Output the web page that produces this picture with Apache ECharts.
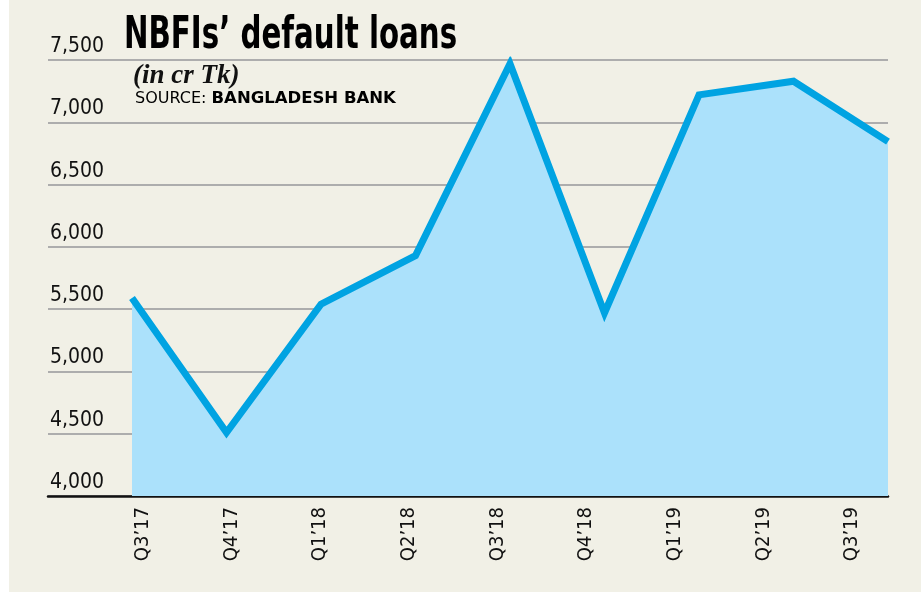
<!DOCTYPE html>
<html>
<head>
<meta charset="utf-8">
<style>
  html, body { margin: 0; padding: 0; background: #fff; }
  #chart { width: 921px; height: 592px; }
</style>
<script src="https://cdn.jsdelivr.net/npm/echarts@6/dist/echarts.min.js"></script>
</head>
<body>
<div id="chart"></div>
<script>
// quarters on the x axis
const quarters = ['Q3’17', 'Q4’17', 'Q1’18', 'Q2’18', 'Q3’18', 'Q4’18', 'Q1’19', 'Q2’19', 'Q3’19']
// default loans, in crore Tk
const defaultLoans = [5590, 4510, 5540, 5930, 7470, 5470, 7220, 7330, 6845]
// y axis range
const yMin = 4000
const yMax = 7500
const yStep = 500

const bg = '#f1f0e6'
const lineBlue = '#00a3e2'
const fillBlue = '#abe1fb'
const narrow = '"Liberation Sans Narrow", "DejaVu Sans Condensed", sans-serif'

const chart = echarts.init(document.getElementById('chart'))

const hiddenY = {
  type: 'value',
  min: yMin,
  max: yMax,
  interval: yStep,
  show: false
}

const option = {
  backgroundColor: bg,
  animation: false,
  grid: [
    // gridlines + y labels
    { left: 48, right: 33, top: 60, bottom: 96 },
    // data
    { left: 132, right: 33, top: 60, bottom: 96 },
    // quarter labels (set slightly off the points, as in the print graphic)
    { left: 143, right: 69, top: 60, bottom: 96 }
  ],
  xAxis: [
    {
      gridIndex: 0,
      type: 'value',
      min: 0,
      max: 1,
      axisLine: { show: true, lineStyle: { color: '#111', width: 2.5 } },
      axisTick: { show: false },
      axisLabel: { show: false },
      splitLine: { show: false }
    },
    {
      gridIndex: 1,
      type: 'category',
      boundaryGap: false,
      data: quarters,
      show: false
    },
    {
      gridIndex: 2,
      type: 'category',
      boundaryGap: false,
      data: quarters,
      axisLine: { show: false },
      axisTick: { show: false },
      axisLabel: {
        interval: 0,
        rotate: 90,
        margin: 11,
        fontFamily: narrow,
        fontSize: 20,
        color: '#111'
      }
    }
  ],
  yAxis: [
    {
      gridIndex: 0,
      type: 'value',
      min: yMin,
      max: yMax,
      interval: yStep,
      axisLine: { show: false },
      axisTick: { show: false },
      axisLabel: {
        inside: true,
        margin: 2,
        verticalAlign: 'bottom',
        padding: [0, 0, 3, 0],
        fontFamily: narrow,
        fontSize: 21,
        color: '#111',
        formatter: v => v.toLocaleString('en-US')
      },
      splitLine: { lineStyle: { color: '#adadad', width: 2 } }
    },
    Object.assign({ gridIndex: 1 }, hiddenY),
    Object.assign({ gridIndex: 2 }, hiddenY)
  ],
  series: [
    {
      type: 'line',
      xAxisIndex: 1,
      yAxisIndex: 1,
      data: defaultLoans,
      symbol: 'none',
      lineStyle: { color: lineBlue, width: 7, join: 'miter', miterLimit: 20 },
      areaStyle: { color: fillBlue, opacity: 1, origin: 'start' },
      z: 3
    }
  ],
  graphic: [
    {
      type: 'rect',
      left: 0,
      top: 0,
      shape: { width: 9, height: 592 },
      style: { fill: '#fff' },
      silent: true
    },
    {
      type: 'text',
      x: 124,
      y: 15,
      scaleX: 0.74,
      style: {
        text: 'NBFIs’ default loans',
        font: 'bold 44px ' + narrow,
        fill: '#000',
        verticalAlign: 'top'
      }
    },
    {
      type: 'text',
      left: 133,
      top: 63,
      style: {
        text: '(in cr Tk)',
        font: 'italic bold 27px "Liberation Serif", "DejaVu Serif", serif',
        fill: '#111'
      }
    },
    {
      type: 'text',
      left: 135,
      top: 90,
      style: {
        text: '{a|SOURCE: }{b|BANGLADESH BANK}',
        rich: {
          a: { fontFamily: '"DejaVu Sans", sans-serif', fontSize: 16, color: '#111' },
          b: { fontFamily: '"DejaVu Sans", sans-serif', fontSize: 16.5, fontWeight: 'bold', color: '#111' }
        }
      }
    }
  ]
}

chart.setOption(option)
</script>
</body>
</html>
